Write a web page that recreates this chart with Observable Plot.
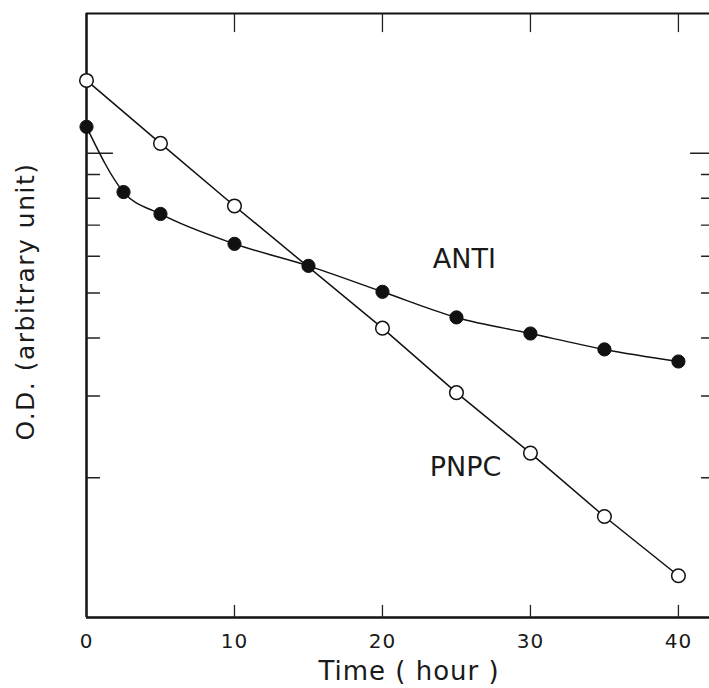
<!DOCTYPE html>
<html><head><meta charset="utf-8">
<script src="https://cdn.jsdelivr.net/npm/d3@7"></script>
<script src="https://cdn.jsdelivr.net/npm/@observablehq/plot@0.6"></script>
<style>
body{margin:0;background:#fff}
.wide text{letter-spacing:1.5px}
.wide2 text{letter-spacing:1px}
</style>
</head><body><div id="chart"></div>
<script>
// Data (O.D. on a log axis)
const pnpcTime = [0, 5, 10, 20, 25, 30, 35, 40];
const pnpcOD   = [14.35, 10.5, 7.7, 4.2, 3.05, 2.26, 1.65, 1.23];
const antiTime = [0, 2.5, 5, 10, 15, 20, 25, 30, 35, 40];
const antiOD   = [11.4, 8.25, 7.4, 6.38, 5.72, 5.03, 4.43, 4.09, 3.78, 3.56];
const xTicks = [0, 10, 20, 30, 40];
const xTickLabels = ["0", "10", "20", "30", "40"];
const yMajorTicks = [10];
const yMinorTicks = [2, 3, 4, 5, 6, 7, 8, 9];
const seriesNames = ["ANTI", "PNPC"];
const xLabel = "Time ( hour )";
const yLabel = "O.D. (arbitrary unit)";

const pnpc = pnpcTime.map((t, i) => ({t, od: pnpcOD[i]}));
const anti = antiTime.map((t, i) => ({t, od: antiOD[i]}));
const xMax = 42.1, yMin = 1, yMax = 20;
const font = "'DejaVu Sans', sans-serif";
const ink = "#1a1a1a";
const tickShape = {draw(ctx, l) { ctx.moveTo(0, 0); ctx.lineTo(0, -l); }};

const chart = Plot.plot({
  width: 709, height: 688,
  marginLeft: 86, marginRight: 0, marginTop: 13, marginBottom: 71,
  style: {fontFamily: font, background: "#fff"},
  x: {domain: [0, xMax], axis: null},
  y: {type: "log", domain: [yMin, yMax], axis: null},
  marks: [
    // frame
    Plot.ruleX([0], {stroke: "#111", strokeWidth: 2.5}),
    Plot.ruleY([yMin], {stroke: "#111", strokeWidth: 2.5}),
    Plot.ruleY([yMax], {stroke: "#111", strokeWidth: 2}),
    // ticks
    Plot.vector(xTicks, {x: d => d, y: yMin, length: 12, rotate: 0, anchor: "start", shape: tickShape, stroke: "#222", strokeWidth: 1.3}),
    Plot.vector(xTicks.filter(d => d > 0), {x: d => d, y: yMax, length: 18, rotate: 180, anchor: "start", shape: tickShape, stroke: "#222", strokeWidth: 1.3}),
    Plot.vector(yMinorTicks, {x: 0, y: d => d, length: 13, rotate: 90, anchor: "start", shape: tickShape, stroke: "#222", strokeWidth: 1.3}),
    Plot.vector(yMajorTicks, {x: 0, y: d => d, length: 26, rotate: 90, anchor: "start", shape: tickShape, stroke: "#222", strokeWidth: 1.3}),
    Plot.vector(yMinorTicks, {x: xMax, y: d => d, length: 8, rotate: -90, anchor: "start", shape: tickShape, stroke: "#222", strokeWidth: 1.3}),
    Plot.vector(yMajorTicks, {x: xMax, y: d => d, length: 19, rotate: -90, anchor: "start", shape: tickShape, stroke: "#222", strokeWidth: 1.3}),
    // tick labels
    Plot.text(xTicks, {x: d => d, y: yMin, text: (d, i) => xTickLabels[i], dy: 24, fontSize: 20, fill: ink, className: "wide2"}),
    // axis titles
    Plot.text([xLabel], {frameAnchor: "bottom", text: d => d, dx: 11, dy: 62, fontSize: 26, fill: ink, className: "wide2"}),
    Plot.text([yLabel], {frameAnchor: "left", textAnchor: "middle", text: d => d, rotate: -90, dx: -61, dy: -14, fontSize: 25, fill: ink, className: "wide"}),
    // series
    Plot.line(pnpc, {x: "t", y: "od", stroke: "#111", strokeWidth: 1.5}),
    Plot.line(anti, {x: "t", y: "od", stroke: "#111", strokeWidth: 1.5, curve: "monotone-x"}),
    Plot.dot(pnpc, {x: "t", y: "od", r: 6.8, fill: "#fff", stroke: "#111", strokeWidth: 1.5}),
    Plot.dot(anti, {x: "t", y: "od", r: 6.6, fill: "#111", stroke: "#111", strokeWidth: 1}),
    // series labels
    Plot.text([seriesNames[0]], {x: 23.4, y: 5.92, text: d => d, textAnchor: "start", fontSize: 27, fill: ink}),
    Plot.text([seriesNames[1]], {x: 23.2, y: 2.11, text: d => d, textAnchor: "start", fontSize: 27, fill: ink})
  ]
});
document.getElementById("chart").appendChild(chart);
</script>
</body></html>
